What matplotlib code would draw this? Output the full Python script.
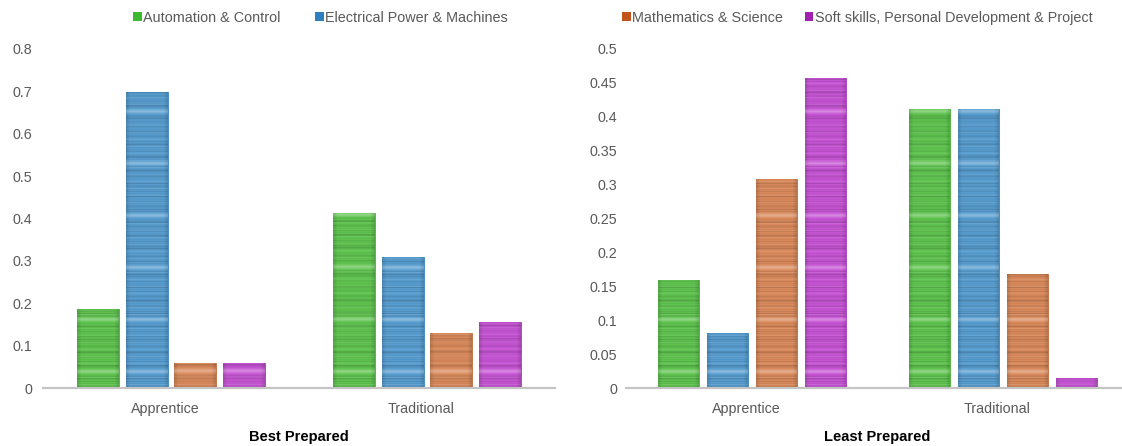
import numpy as np
import matplotlib
matplotlib.use("Agg")
import matplotlib.pyplot as plt
from matplotlib.colors import to_rgb
from matplotlib.patches import Patch

plt.rcParams["font.family"] = ["Liberation Sans", "DejaVu Sans"]

CATEGORIES = ["Apprentice", "Traditional"]
SERIES = [
    "Automation & Control",
    "Electrical Power & Machines",
    "Mathematics & Science",
    "Soft skills, Personal Development & Project",
]
BEST_PREPARED = [
    [0.186, 0.413],
    [0.698, 0.309],
    [0.059, 0.130],
    [0.059, 0.156],
]
LEAST_PREPARED = [
    [0.159, 0.411],
    [0.081, 0.411],
    [0.308, 0.168],
    [0.457, 0.015],
]
BEST_TICKS = [0, 0.1, 0.2, 0.3, 0.4, 0.5, 0.6, 0.7, 0.8]
LEAST_TICKS = [0, 0.05, 0.1, 0.15, 0.2, 0.25, 0.3, 0.35, 0.4, 0.45, 0.5]

BAR_COLORS = ["#60c350", "#589dcf", "#d98a5c", "#c655d4"]
EDGE_COLORS = ["#45b335", "#3584be", "#c06a38", "#ab35bd"]
LEGEND_COLORS = ["#3cb931", "#2e7fc0", "#c0561b", "#a020b0"]
TEXT_GREY = "#595959"

W, H = 1122, 446


def stripe_texture(color, nrows, ncols=42):
    # fine horizontal streaks plus a soft bright band every ~52 px above the baseline
    rgb = np.array(to_rgb(color))
    rows = np.arange(nrows)
    shade = np.zeros(nrows)
    shade[rows % 2 == 0] = -0.05
    shade[rows % 5 == 1] = -0.10
    shade[rows % 7 == 3] = 0.08
    shade[rows % 13 == 9] = -0.16
    band = (rows - 16) % 52
    for k, v in ((-2, 0.10), (-1, 0.22), (0, 0.30), (1, 0.22), (2, 0.10)):
        shade[band == (k % 52)] = v
    cols = np.linspace(-1, 1, ncols)
    side = 1 - 0.12 * np.clip((np.abs(cols) - 0.8) / 0.2, 0, 1)
    out = np.empty((nrows, ncols, 3))
    for i, s in enumerate(shade):
        c = rgb + (1 - rgb) * s if s > 0 else rgb * (1 + s)
        out[i] = c[None, :] * side[:, None]
    return np.clip(out[::-1], 0, 1)


def draw_panel(ax, values, ticks, title, step, width, ypad):
    ymax = ticks[-1]
    x = np.arange(len(CATEGORIES))
    nrows = int(round(ax.get_position().height * H))
    for i, (series_vals, color) in enumerate(zip(values, BAR_COLORS)):
        offset = (i - 1.5) * step
        bars = ax.bar(x + offset, series_vals, width, color=color,
                      edgecolor=EDGE_COLORS[i], linewidth=0.6, zorder=2)
        tex = stripe_texture(color, nrows)
        for bar in bars:
            x0 = bar.get_x()
            im = ax.imshow(tex, extent=(x0, x0 + bar.get_width(), 0, ymax),
                           aspect="auto", interpolation="bilinear", zorder=2.5)
            im.set_clip_path(bar)
    ax.set_xlim(-0.5, len(CATEGORIES) - 0.5)
    ax.set_ylim(0, ymax)
    ax.set_yticks(ticks)
    ax.set_yticklabels([f"{t:g}" for t in ticks])
    ax.set_xticks(x - 0.023)
    ax.set_xticklabels(CATEGORIES)
    ax.tick_params(axis="both", length=0, colors=TEXT_GREY, labelsize=10.3)
    ax.tick_params(axis="y", pad=ypad)
    ax.tick_params(axis="x", pad=10)
    for side in ("left", "right", "top"):
        ax.spines[side].set_visible(False)
    ax.spines["bottom"].set_color("#c4c4c4")
    ax.spines["bottom"].set_linewidth(1.6)
    ax.spines["bottom"].set_zorder(3)
    ax.set_xlabel(title, fontsize=10.5, fontweight="bold", color="black", labelpad=10)


fig = plt.figure(figsize=(W / 100, H / 100), dpi=100)
ax_best = fig.add_axes([43 / W, 58 / H, 512 / W, 339 / H])
ax_least = fig.add_axes([626 / W, 58 / H, 503 / W, 339 / H])

draw_panel(ax_best, BEST_PREPARED, BEST_TICKS, "Best Prepared", 0.191, 0.164, 8)
draw_panel(ax_least, LEAST_PREPARED, LEAST_TICKS, "Least Prepared", 0.195, 0.163, 6.5)

handles = [Patch(facecolor=c, edgecolor="none") for c in LEGEND_COLORS]
legend_layout = (
    ((0, 1), (133 / W, 1 - 18 / H), 2.4),
    ((2, 3), (622 / W, 1 - 18 / H), 1.5),
)
for idx, anchor, spacing in legend_layout:
    fig.legend([handles[k] for k in idx], [SERIES[k] for k in idx],
               loc="center left", bbox_to_anchor=anchor, ncol=2, frameon=False,
               fontsize=10.4, labelcolor=TEXT_GREY, handlelength=0.6, handleheight=0.6,
               handletextpad=0.1, columnspacing=spacing, borderpad=0, borderaxespad=0)

fig.savefig("out.png", dpi=100, facecolor="white")
